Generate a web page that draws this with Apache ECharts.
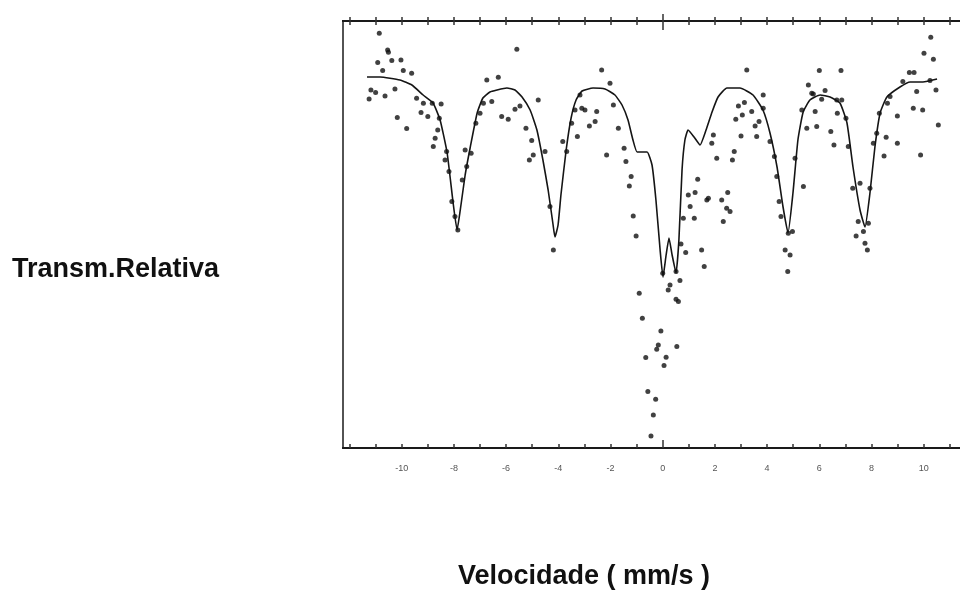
<!DOCTYPE html>
<html>
<head>
<meta charset="utf-8">
<script src="https://cdn.jsdelivr.net/npm/echarts@6/dist/echarts.min.js"></script>
<style>
  html, body { margin: 0; padding: 0; background: #fff; }
  #myChart { width: 960px; height: 595px; }
</style>
</head>
<body>
<div id="myChart"></div>
<script>
  // pontos medidos (velocidade mm/s, transmissao relativa)
  let pointV = [-10.86,-10.54,-10.51,-10.92,-10.38,-10.03,-10.73,-9.94,-9.62,-11.18,-11.00,-11.25,-10.64,-10.26,-9.43,-9.17,-8.83,-8.49,-9.26,-9.00,
    -10.17,-9.81,-8.56,-8.62,-8.72,-8.79,-8.34,-8.28,-8.19,-8.08,-7.96,-7.85,-7.68,-7.51,-7.57,-7.34,-7.16,-7.00,-6.74,-6.30,
    -6.55,-6.17,-6.87,-5.59,-5.92,-5.66,-5.47,-4.77,-5.24,-5.02,-4.96,-5.11,-4.51,-4.19,-4.32,-3.83,-3.68,-3.27,-3.49,-3.36,
    -3.10,-2.98,-3.17,-2.81,-2.59,-2.53,-2.34,-2.02,-1.89,-2.15,-1.70,-1.48,-1.41,-1.21,-1.28,-1.13,-1.02,3.22,2.90,3.13,
    3.05,2.80,3.41,3.54,3.69,3.85,3.85,3.00,3.60,4.11,4.28,1.94,1.88,2.07,2.74,2.67,1.34,0.98,1.24,1.05,
    1.69,1.75,2.26,2.49,2.45,2.58,2.32,1.21,0.79,0.70,0.88,1.49,1.59,4.37,4.46,4.53,4.81,4.97,4.69,4.88,
    4.79,5.07,5.39,5.33,5.52,5.58,5.71,6.00,6.83,6.22,5.77,6.09,6.67,6.86,5.84,5.90,6.44,6.56,6.69,7.02,
    7.11,7.28,7.56,7.49,7.41,7.69,7.75,7.84,7.88,7.94,8.07,8.20,8.30,8.48,8.56,8.61,8.71,8.99,8.99,9.20,
    9.45,9.63,9.60,9.73,9.96,9.88,10.01,10.27,10.37,10.47,10.56,10.24,0.00,0.51,0.28,0.21,0.66,0.51,0.60,-0.90,
    -0.78,-0.07,-0.17,-0.23,0.54,-0.65,0.13,0.05,-0.57,-0.27,-0.36,-0.45];
  let pointT = [102.29,101.45,101.34,100.82,100.92,100.95,100.42,100.42,100.29,99.45,99.32,99.00,99.15,99.50,99.04,98.79,98.79,98.75,98.32,98.12,
    98.07,97.52,98.04,97.45,97.04,96.62,95.95,96.37,95.37,93.87,93.12,92.45,94.95,95.62,96.45,96.29,97.79,98.29,99.95,100.09,
    98.87,98.12,98.79,101.49,97.99,98.49,98.65,98.95,97.54,96.92,96.20,95.95,96.37,91.45,93.62,96.87,96.37,97.12,97.79,98.45,
    98.54,98.45,99.20,97.65,97.87,98.37,100.45,99.79,98.70,96.20,97.54,96.54,95.87,95.12,94.65,93.15,92.15,100.45,98.65,98.82,
    98.20,97.99,98.37,97.65,97.87,99.20,98.54,97.15,97.12,96.87,96.12,97.20,96.79,96.04,96.37,95.95,94.99,94.20,94.32,93.62,
    93.95,94.04,93.95,94.32,93.54,93.37,92.87,93.04,93.04,91.75,91.32,91.45,90.62,95.12,93.87,93.12,92.29,92.37,91.45,91.20,
    90.37,96.04,94.62,98.45,97.54,99.70,99.29,100.42,100.42,99.42,99.25,98.99,98.95,98.95,98.37,97.62,97.37,96.70,98.29,98.04,
    96.62,94.54,94.79,92.87,92.15,92.37,91.79,91.45,92.79,94.54,96.79,97.29,98.29,96.15,97.09,98.79,99.12,98.15,96.79,99.87,
    100.32,100.32,98.54,99.37,98.45,96.20,101.29,102.09,100.99,99.45,97.70,99.92,90.29,90.37,89.70,89.45,89.92,88.99,88.87,89.29,
    88.04,87.40,86.70,86.49,86.62,86.07,86.09,85.67,84.37,83.99,83.20,82.15];

  // curva ajustada
  let fitV = [-11.33,-10.83,-10.07,-9.61,-9.18,-8.80,-8.53,-8.26,-8.03,-7.88,-7.73,-7.57,-7.38,-7.11,-6.89,-6.62,-6.35,-5.97,-5.66,-5.39,
    -5.08,-4.82,-4.59,-4.39,-4.20,-4.13,-4.01,-3.90,-3.70,-3.51,-3.32,-3.09,-2.67,-2.21,-1.83,-1.56,-1.33,-1.14,-0.98,-0.60,
    -0.41,-0.26,-0.10,0.01,0.13,0.24,0.36,0.51,0.62,0.74,0.85,0.97,1.20,1.43,1.66,1.89,2.12,2.46,2.96,3.46,
    3.84,4.11,4.38,4.61,4.80,4.99,5.18,5.38,5.64,6.03,6.41,6.79,7.06,7.29,7.56,7.75,7.94,8.13,8.33,8.59,
    9.09,9.48,9.97,10.51];
  let fitT = [100.10,100.10,99.95,99.70,99.20,98.80,97.95,96.30,93.80,92.45,93.70,95.20,96.55,98.30,99.05,99.35,99.45,99.55,99.45,99.10,
    98.45,97.45,95.95,94.45,92.70,92.10,92.70,94.20,96.45,98.05,98.95,99.40,99.55,99.50,99.20,98.70,97.95,96.95,96.35,96.35,
    95.70,93.95,91.45,90.10,91.20,92.05,91.20,90.30,91.95,95.45,96.95,97.45,97.10,96.70,97.45,98.35,99.10,99.55,99.55,99.20,
    98.45,97.30,95.60,93.60,92.30,94.30,96.95,98.35,98.95,99.20,99.10,98.80,97.80,95.60,93.45,92.60,94.30,96.60,98.30,99.10,
    99.60,99.85,99.85,100.00];

  // marcas do eixo de velocidade
  let tickValues = [-12,-11,-10,-9,-8,-7,-6,-5,-4,-3,-2,-1,0,1,2,3,4,5,6,7,8,9,10,11];
  let labelValues = [-10,-8,-6,-4,-2,0,2,4,6,8,10];
  let bigTickValues = [0];

  let pts = pointV.map((v, i) => [v, pointT[i]]);
  let fit = fitV.map((v, i) => [v, fitT[i]]);

  let myChart = echarts.init(document.getElementById('myChart'));
  let xMin = -12.25, xMax = 11.39;
  let frame = { onZero: false, lineStyle: { color: '#1a1a1a', width: 2 } };
  let tickStyle = { color: '#333', width: 1.5 };
  // eixo so para desenhar tracinhos
  function tickAxis(pos, values, len, inside) {
    return {
      type: 'value', position: pos, min: xMin, max: xMax,
      axisLine: frame,
      axisTick: { inside: inside, length: len, customValues: values, lineStyle: tickStyle },
      axisLabel: { show: false },
      splitLine: { show: false }
    };
  }
  myChart.setOption({
    animation: false,
    backgroundColor: '#fff',
    grid: { left: 343, right: 0, top: 21, bottom: 147 },
    xAxis: [
      {
        type: 'value', position: 'bottom', min: xMin, max: xMax,
        axisLine: frame,
        axisTick: { inside: true, length: 4, customValues: tickValues, lineStyle: tickStyle },
        axisLabel: {
          customValues: labelValues,
          fontSize: 9, color: '#555', margin: 16, fontFamily: 'Liberation Sans'
        },
        splitLine: { show: false }
      },
      tickAxis('top', tickValues, 4, true),
      tickAxis('top', tickValues, 4, false),
      tickAxis('top', bigTickValues, 9, true),
      tickAxis('top', bigTickValues, 7, false),
      tickAxis('bottom', bigTickValues, 8, true)
    ],
    yAxis: {
      type: 'value', min: 81.55, max: 102.9,
      axisLine: { show: true, onZero: false, lineStyle: { color: '#1a1a1a', width: 1.5 } },
      axisTick: { show: false },
      axisLabel: { show: false },
      splitLine: { show: false }
    },
    graphic: [
      {
        type: 'text', left: 12, top: 256,
        style: { text: 'Transm.Relativa', font: 'bold 27px "Liberation Sans"', fill: '#111' }
      },
      {
        type: 'text', left: 458, top: 563,
        style: { text: 'Velocidade ( mm/s )', font: 'bold 27px "Liberation Sans"', fill: '#111' }
      }
    ],
    series: [
      {
        name: 'ajuste',
        type: 'line',
        data: fit,
        showSymbol: false,
        smooth: 0.15,
        lineStyle: { color: '#151515', width: 1.6 },
        z: 3
      },
      {
        name: 'medida',
        type: 'scatter',
        data: pts,
        symbol: 'circle',
        symbolSize: 5,
        itemStyle: { color: '#111' },
        z: 4
      }
    ]
  });
</script>
</body>
</html>
